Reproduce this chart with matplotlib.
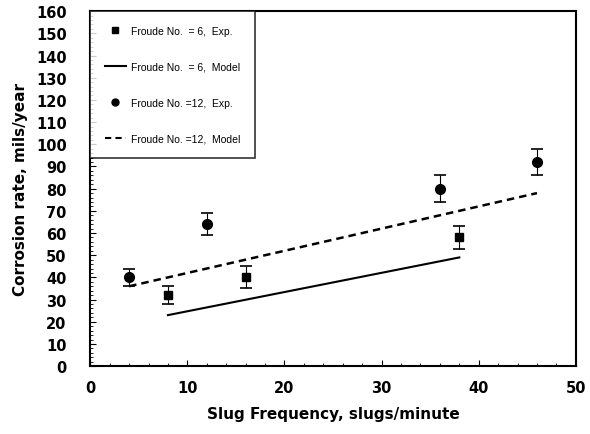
import matplotlib
matplotlib.use("Agg")
from matplotlib import pyplot as plt
from matplotlib.ticker import MultipleLocator
from matplotlib.lines import Line2D

plt.rcParams['font.family'] = ['DejaVu Sans']

# 实验数据
fr6_x = [8, 16, 38]
fr6_y = [32, 40, 58]
fr6_err = [4, 5, 5]

fr12_x = [4, 12, 36, 46]
fr12_y = [40, 64, 80, 92]
fr12_err = [4, 5, 6, 6]

# 模型线
fr6_model_x = [8, 38]
fr6_model_y = [23, 49]
fr12_model_x = [4, 46]
fr12_model_y = [36, 78]

fig = plt.figure(figsize=(5.9, 4.35), dpi=100)
ax = fig.add_axes([0.153, 0.156, 0.823, 0.816])

ax.errorbar(fr6_x, fr6_y, yerr=fr6_err, fmt='s', color='black', ms=6,
            capsize=4, elinewidth=0.8, capthick=1.2)
ax.plot(fr6_model_x, fr6_model_y, '-', color='black', lw=1.5)
ax.errorbar(fr12_x, fr12_y, yerr=fr12_err, fmt='o', color='black', ms=7,
            capsize=4, elinewidth=0.8, capthick=1.2)
ax.plot(fr12_model_x, fr12_model_y, '--', color='black', lw=1.8, dashes=(3, 2))

ax.set_xlim(0, 50)
ax.set_ylim(0, 160)
ax.xaxis.set_major_locator(MultipleLocator(10))
ax.xaxis.set_minor_locator(MultipleLocator(2))
ax.yaxis.set_major_locator(MultipleLocator(10))
ax.yaxis.set_minor_locator(MultipleLocator(2))
ax.tick_params(which='both', direction='in')
ax.tick_params(which='major', length=4, labelsize=10.5)
ax.tick_params(axis='y', which='major', pad=17)
ax.tick_params(axis='x', which='major', pad=10)
ax.tick_params(which='minor', length=2)
for lab in ax.get_xticklabels() + ax.get_yticklabels():
    lab.set_fontweight('bold')
for s in ax.spines.values():
    s.set_linewidth(1.5)

ax.set_xlabel('Slug Frequency, slugs/minute', fontsize=11, fontweight='bold', labelpad=8)
ax.set_ylabel('Corrosion rate, mils/year', fontsize=11, fontweight='bold', labelpad=6)

handles = [
    Line2D([], [], marker='s', ls='none', color='black', ms=5),
    Line2D([], [], ls='-', color='black', lw=1.5),
    Line2D([], [], marker='o', ls='none', color='black', ms=5),
    Line2D([], [], ls='--', color='black', lw=1.5, dashes=(3, 2)),
]
labels = ['Froude No.  = 6,  Exp.', 'Froude No.  = 6,  Model',
          'Froude No. =12,  Exp.', 'Froude No. =12,  Model']
leg = ax.legend(handles, labels, loc='upper left', labelspacing=2.5, borderaxespad=0,
                frameon=True, fancybox=False, edgecolor='black', handlelength=2.0,
                handletextpad=0.5, borderpad=1.4,
                prop={'family': ['Liberation Sans'], 'size': 7.5})
leg.get_frame().set_linewidth(1.2)

plt.savefig('out.png', dpi=100)
